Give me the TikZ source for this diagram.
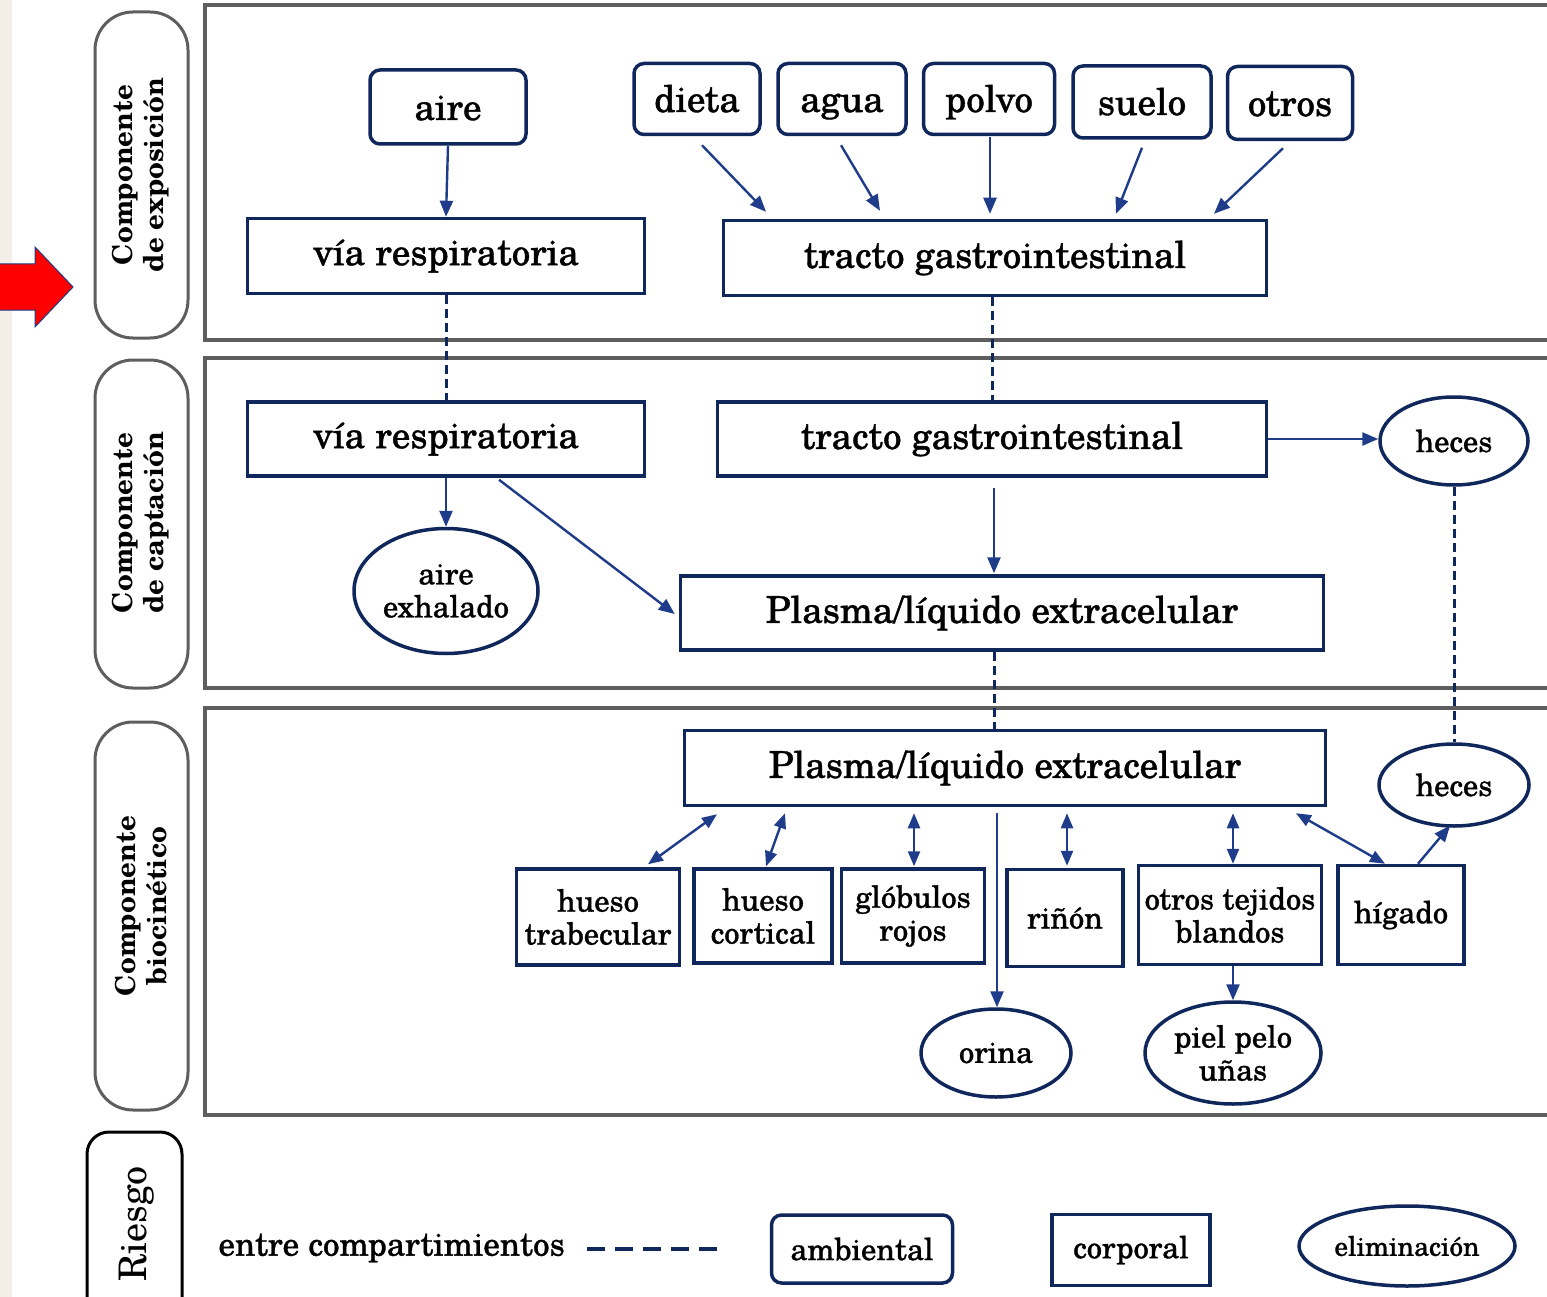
\documentclass[tikz,border=0pt]{standalone}
\usepackage{fontspec}
\setmainfont{TeX Gyre Schola}
\usetikzlibrary{arrows.meta,shapes.geometric}
\definecolor{navy}{HTML}{10275C}
\definecolor{arrowblue}{HTML}{1E3C8A}
\definecolor{framegray}{HTML}{5E5E5E}
\definecolor{beige}{HTML}{F3EFE8}
\newcommand{\heavy}{\addfontfeatures{FakeBold=1}}
\begin{document}
\begin{tikzpicture}[x=1pt,y=-1pt,
  base/.style={draw=navy, line width=3.5pt, inner sep=0pt},
  bigfont/.style={font=\fontsize{37}{40}\selectfont\heavy},
  smallfont/.style={font=\fontsize{30.5}{33}\selectfont\heavy},
  srcbox/.style={base, bigfont, rounded corners=10pt, text height=32pt, text depth=6pt},
  corpbox/.style={base, bigfont, rectangle},
  tissuebox/.style={base, smallfont, rectangle, align=center},
  elim/.style={base, smallfont, ellipse, align=center},
  flow/.style={draw=arrowblue, line width=2.4pt, -{Triangle[length=16pt,width=13pt]}},
  twoway/.style={draw=arrowblue, line width=2.4pt, {Triangle[length=15pt,width=12pt]}-{Triangle[length=15pt,width=12pt]}},
  link/.style={draw=navy, line width=3pt, dash pattern=on 9pt off 5pt},
  frame/.style={draw=framegray, line width=3.5pt},
  pill/.style={draw=framegray, line width=3pt, rounded corners=38pt},
  sidelabel/.style={rotate=90, align=center, font=\fontsize{27.5}{31}\selectfont\bfseries}
]
\useasboundingbox (0,0) rectangle (1547,1297);
\clip (0,0) rectangle (1547,1297);
\fill[white] (0,0) rectangle (1547,1297);
\fill[beige] (0,0) rectangle (12,1297);

% section frames
\draw[frame] (205,5) rectangle (1600,340);
\draw[frame] (205,358) rectangle (1600,688);
\draw[frame] (205,708) rectangle (1600,1115);

% side labels
\draw[pill] (95,12) rectangle (188,338);
\node[sidelabel] (lexp) at (141,175) {Componente\\de exposición};
\draw[pill] (95,360) rectangle (188,688);
\node[sidelabel] (lcap) at (141,523) {Componente\\de captación};
\draw[pill] (95,722) rectangle (188,1110);
\node[sidelabel] (lbio) at (141,906) {Componente\\biocinético};
\draw[draw=black, line width=3pt, rounded corners=22pt] (87,1132) rectangle (182,1340);
\node[rotate=90, font=\fontsize{38}{40}\selectfont] (lrie) at (137,1224) {Riesgo};

% red arrow
\draw[fill=red, draw=arrowblue, line width=1pt] (-2,264) -- (35,264) -- (35,247) -- (73,287) -- (35,327) -- (35,310) -- (-2,310) -- cycle;

% exposure
\node[srcbox, minimum width=156pt, minimum height=74pt] (aire) at (448,107) {aire};
\node[srcbox, minimum width=126pt, minimum height=71pt] (dieta) at (697,99) {dieta};
\node[srcbox, minimum width=128pt, minimum height=71pt] (agua) at (842,99) {agua};
\node[srcbox, minimum width=131pt, minimum height=71pt] (polvo) at (989,99) {polvo};
\node[srcbox, minimum width=138pt, minimum height=72pt] (suelo) at (1142,102) {suelo};
\node[srcbox, minimum width=125pt, minimum height=73pt] (otros) at (1290,103) {otros};
\node[corpbox, minimum width=397pt, minimum height=75pt] (via1) at (446,256) {vía respiratoria};
\node[corpbox, minimum width=543pt, minimum height=75pt] (tracto1) at (995,258) {tracto gastrointestinal};

\draw[flow] (aire.south) -- (via1.north);
\draw[flow] ([shift={(5,9)}]dieta.south) -- ([shift={(-229,-7)}]tracto1.north);
\draw[flow] ([shift={(-1,9)}]agua.south) -- ([shift={(-115,-8)}]tracto1.north);
\draw[flow] ([shift={(1,1)}]polvo.south) -- ([shift={(-5,-5)}]tracto1.north);
\draw[flow] ([shift={(0,8)}]suelo.south) -- ([shift={(121,-5)}]tracto1.north);
\draw[flow] ([shift={(-7,7)}]otros.south) -- ([shift={(219,-5)}]tracto1.north);

% uptake
\node[corpbox, minimum width=397pt, minimum height=74pt] (via2) at (446,439) {vía respiratoria};
\node[corpbox, minimum width=549pt, minimum height=74pt] (tracto2) at (992,439) {tracto gastrointestinal};
\node[elim, minimum width=148pt, minimum height=88pt] (heces1) at (1454,441) {heces};
\node[elim, minimum width=184pt, minimum height=125pt] (exh) at (446,591) {aire\\exhalado};
\node[corpbox, minimum width=643pt, minimum height=74pt] (plasma1) at (1002,613) {Plasma/líquido extracelular};

\draw[link] (via1.south) -- (via2.north);
\draw[link] ([xshift=-3pt]tracto1.south) -- (tracto2.north);
\draw[flow] (via2.south) -- (exh.north);
\draw[flow] ([shift={(53,2)}]via2.south) -- ([shift={(-4,1)}]plasma1.west);
\draw[flow] (tracto2.east) -- (tracto2.east -| heces1.west);
\draw[flow] ([shift={(2,10)}]tracto2.south) -- ([shift={(-8,-1)}]plasma1.north);

% biokinetic
\node[corpbox, minimum width=641pt, minimum height=75pt] (plasma2) at (1005,768) {Plasma/líquido extracelular};
\node[elim, minimum width=150pt, minimum height=82pt] (heces2) at (1454,785) {heces};
\node[tissuebox, minimum width=163pt, minimum height=96pt] (trab) at (598,917) {hueso\\trabecular};
\node[tissuebox, minimum width=138pt, minimum height=94pt] (cort) at (763,916) {hueso\\cortical};
\node[tissuebox, minimum width=143pt, minimum height=94pt] (glob) at (913,916) {glóbulos\\rojos};
\node[tissuebox, minimum width=116pt, minimum height=97pt] (rin) at (1065,918) {riñón};
\node[tissuebox, minimum width=183pt, minimum height=99pt] (otb) at (1230,915) {otros tejidos\\blandos};
\node[tissuebox, minimum width=126pt, minimum height=99pt] (hig) at (1401,915) {hígado};
\node[elim, minimum width=150pt, minimum height=88pt] (orina) at (996,1053) {orina};
\node[elim, minimum width=176pt, minimum height=102pt] (piel) at (1233,1053) {piel pelo\\uñas};

\draw[link] ([xshift=-8pt]plasma1.south) -- ([xshift=-11pt]plasma2.north);
\draw[link] (heces1.south) -- (heces2.north);
\draw[twoway] ([shift={(50,-3)}]trab.north) -- ([shift={(-288,7)}]plasma2.south);
\draw[twoway] ([shift={(3,-1)}]cort.north) -- ([shift={(-220,6)}]plasma2.south);
\draw[twoway] ([shift={(1,-1)}]glob.north) -- ([shift={(-91,6)}]plasma2.south);
\draw[twoway] ([shift={(2,-2)}]rin.north) -- ([shift={(62,6)}]plasma2.south);
\draw[twoway] ([shift={(3,0)}]otb.north) -- ([shift={(228,6)}]plasma2.south);
\draw[twoway] ([shift={(-16,0)}]hig.north) -- ([shift={(291,6)}]plasma2.south);
\draw[flow] ([shift={(-8,6)}]plasma2.south) -- ([xshift=1pt]orina.north);
\draw[flow] ([xshift=3pt]otb.south) -- (piel.north);
\draw[flow] ([xshift=17pt]hig.north) -- ([shift={(-4,-2)}]heces2.south);

% legend
\node[font=\fontsize{33}{36}\selectfont\heavy, anchor=west] (lgtext) at (215,1248) {entre compartimientos};
\coordinate (lgstart) at (587,1249);
\coordinate (lgend) at (717,1249);
\draw[draw=navy, line width=3.5pt, dash pattern=on 18pt off 10pt] (lgstart) -- (lgend);
\node[base, smallfont, rounded corners=10pt, minimum width=181pt, minimum height=68pt] (lamb) at (862,1249) {ambiental};
\node[tissuebox, minimum width=158pt, minimum height=71pt] (lcorp) at (1131,1250) {corporal};
\node[elim, font=\fontsize{27}{30}\selectfont\heavy, minimum width=216pt, minimum height=80pt] (lelim) at (1407,1246) {eliminación};
\end{tikzpicture}
\end{document}
